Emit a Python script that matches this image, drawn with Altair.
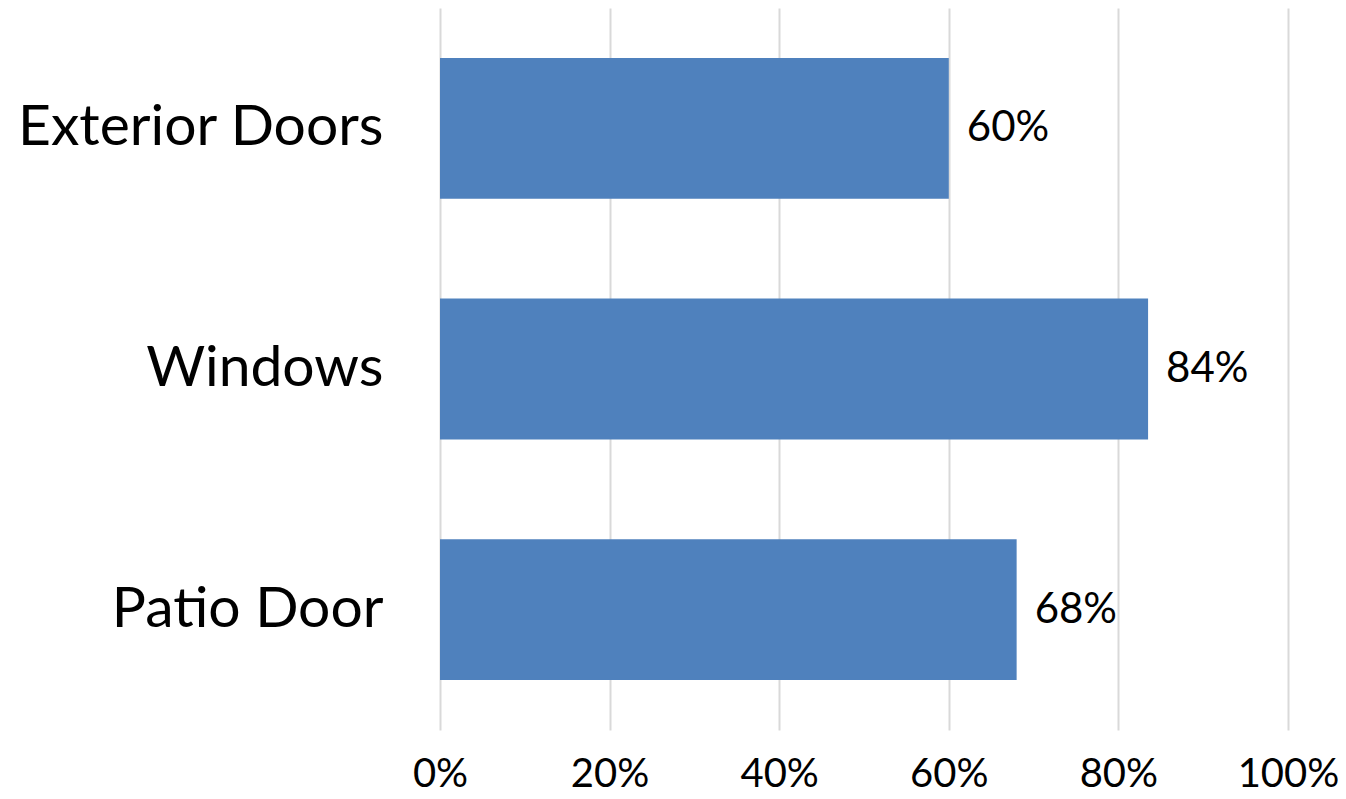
import altair as alt
import pandas as pd

categories = ["Exterior Doors", "Windows", "Patio Door"]
values = [0.60, 0.835, 0.68]
labels = ["60%", "84%", "68%"]

df = pd.DataFrame({"category": categories, "value": values, "label": labels})

FONT = "Lato"

base = alt.Chart(df).encode(
    y=alt.Y("category:N", sort=categories, title=None,
            scale=alt.Scale(paddingInner=0.415, paddingOuter=0.2075),
            axis=alt.Axis(labelFontSize=57, labelFont=FONT, labelColor="black",
                          labelPadding=57, ticks=False, domain=False, labelLimit=500)),
)

bars = base.mark_bar(color="#4F81BD").encode(
    x=alt.X("value:Q", title=None,
            scale=alt.Scale(domain=[0, 1], nice=False),
            axis=alt.Axis(format="%", values=[0, 0.2, 0.4, 0.6, 0.8, 1.0],
                          labelFontSize=40, labelFont=FONT, labelColor="black",
                          labelPadding=24, ticks=False, domain=False,
                          labelFlush=False, labelOverlap=False,
                          grid=True, gridColor="#D9D9D9", gridWidth=2,
                          labelBaseline="top")),
)

text = base.mark_text(align="left", baseline="middle", dx=18, fontSize=42,
                      font=FONT, color="black").encode(
    x="value:Q", text="label:N")

chart = (bars + text).properties(
    width=848, height=722,
    autosize=alt.AutoSizeParams(type="none"),
    padding={"left": 432, "top": 0, "right": 50, "bottom": 69},
).configure_view(stroke=None)

chart.save("out.html", embed_options={"renderer": "svg", "actions": False})
